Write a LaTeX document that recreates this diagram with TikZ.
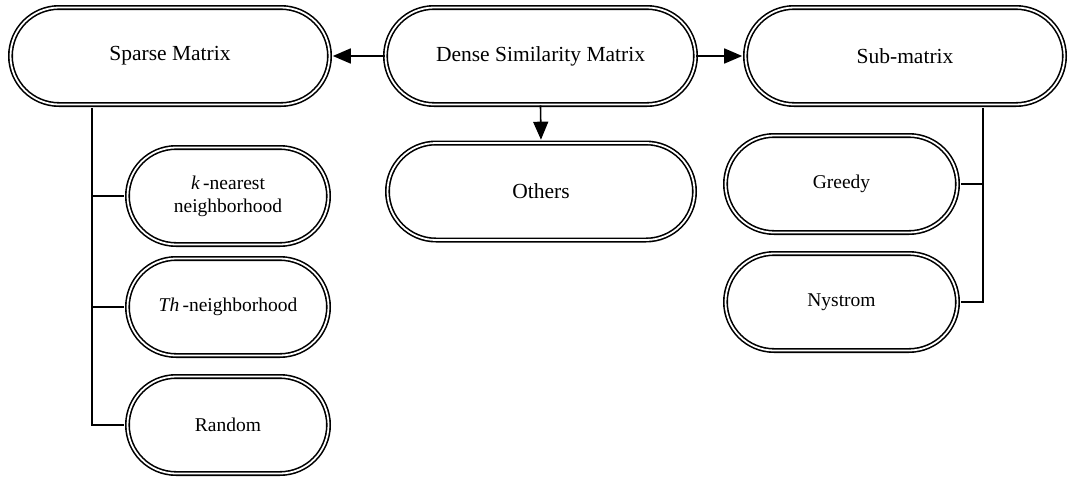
\documentclass[tikz,border=0pt]{standalone}
\usepackage{fontspec}
\setmainfont{Liberation Serif}
\usetikzlibrary{shapes.misc,arrows.meta}
\tikzset{
  pill/.style={rounded rectangle, draw=black, line width=1.6pt, double=white, double distance=1.8pt,
    fill=white, align=center, inner sep=0pt},
  bigpill/.style={pill, minimum width=#1, minimum height=97pt, font=\fontsize{21.5}{24}\selectfont},
  smallpill/.style={pill, minimum width=#1, minimum height=97pt, font=\fontsize{19.5}{23}\selectfont},
  conn/.style={line width=1.6pt},
  arr/.style={line width=1.6pt, -{Triangle[length=18pt,width=15pt]}, shorten >=2.5pt},
}
\begin{document}
\begin{tikzpicture}[x=1pt,y=-1pt]
\useasboundingbox (0,0) rectangle (1069,477);
\node[bigpill=319pt] (sparse) at (170,56) {Sparse Matrix};
\node[bigpill=310pt] (dense) at (540.5,56) {Dense Similarity Matrix};
\node[bigpill=319pt] (sub) at (905,56) {Sub-matrix};
\node[bigpill=307pt] (others) at (541,191.5) {Others};
\node[smallpill=201pt] (knn) at (228,196) {\textit{k}\,-nearest\\neighborhood};
\node[smallpill=201pt] (th) at (228,307) {\textit{Th}\,-neighborhood};
\node[smallpill=201pt] (random) at (228,425) {Random};
\node[smallpill=232pt] (greedy) at (841.5,184) {Greedy};
\node[smallpill=232pt] (nystrom) at (841.5,302) {Nystrom};
\coordinate (lbus) at (92,0);
\coordinate (rbus) at (983,0);
\draw[arr] (dense.west) -- (sparse.east);
\draw[arr] (dense.east) -- (sub.west);
\draw[arr] (dense.south) -- (others.north);
\draw[conn, shorten >=2.5pt, shorten <=2.5pt] (sparse.south -| lbus) |- (random.west);
\draw[conn, shorten >=2.5pt] (lbus |- knn.west) -- (knn.west);
\draw[conn, shorten >=2.5pt] (lbus |- th.west) -- (th.west);
\draw[conn, shorten >=2.5pt, shorten <=2.5pt] (sub.south -| rbus) |- (nystrom.east);
\draw[conn, shorten >=2.5pt] (rbus |- greedy.east) -- (greedy.east);
\end{tikzpicture}
\end{document}
